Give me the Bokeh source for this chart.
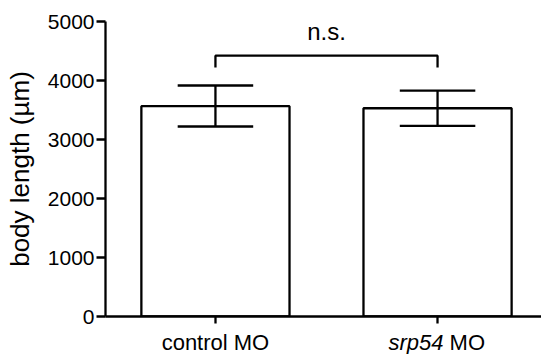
from bokeh.plotting import figure
from bokeh.layouts import column
from bokeh.models import Range1d, FixedTicker
from bokeh.core.properties import value
from bokeh.embed import file_html
from bokeh.resources import INLINE

# data
categories = ["control MO", "srp54 MO"]
label_italic = ["", "srp54"]
label_plain = ["control MO", "MO"]
means = [3565, 3530]
err_up = [3915, 3830]
err_lo = [3220, 3230]
bracket_y = 4420
bracket_drop = 4220
y_ticks = [0, 1000, 2000, 3000, 4000, 5000]
sig_text = "n.s."

FONT = "Liberation Sans"
xs = [i for i in range(len(categories))]
LW = 2.3

xr = Range1d(-0.495, 1.468)
p = figure(width=541, height=328, output_backend="svg", toolbar_location=None,
           x_range=xr, y_range=Range1d(0, 5000),
           min_border_left=105, min_border_right=0, min_border_top=21, min_border_bottom=12)
p.outline_line_color = None
p.xgrid.visible = False
p.ygrid.visible = False

# bars
p.vbar(x=xs, width=0.667, top=means, bottom=0, fill_color="white",
       line_color="black", line_width=LW)
# error bars
p.segment(x0=xs, x1=xs, y0=err_lo, y1=err_up, line_color="black", line_width=LW)
cap = 0.17
p.segment(x0=[x - cap for x in xs], x1=[x + cap for x in xs], y0=err_up, y1=err_up,
          line_color="black", line_width=LW)
p.segment(x0=[x - cap for x in xs], x1=[x + cap for x in xs], y0=err_lo, y1=err_lo,
          line_color="black", line_width=LW)
# bracket
p.line(x=[xs[0], xs[0], xs[1], xs[1]], y=[bracket_drop, bracket_y, bracket_y, bracket_drop],
       line_color="black", line_width=LW)
p.text(x=[(xs[0] + xs[1]) / 2], y=[bracket_y], text=[sig_text], text_align="center",
       text_baseline="bottom", y_offset=-11, text_font_size="24px", text_color="black",
       text_font=value(FONT))

# axes
for ax in (p.xaxis[0], p.yaxis[0]):
    ax.axis_line_width = LW
    ax.axis_line_color = "black"
    ax.major_tick_line_width = LW
    ax.major_tick_line_color = "black"
    ax.major_tick_in = 0
    ax.minor_tick_line_color = None
    ax.major_label_text_font = FONT
    ax.major_label_text_color = "black"

p.yaxis.ticker = FixedTicker(ticks=y_ticks)
p.yaxis.major_tick_out = 9
p.yaxis.major_label_text_font_size = "21px"
p.yaxis.major_label_standoff = 2
p.yaxis.axis_label = "body length (µm)"
p.yaxis.axis_label_text_font = FONT
p.yaxis.axis_label_text_font_size = "26px"
p.yaxis.axis_label_text_font_style = "normal"
p.yaxis.axis_label_text_color = "black"
p.yaxis.axis_label_standoff = 10

p.xaxis.ticker = FixedTicker(ticks=xs)
p.xaxis.major_tick_out = 7
p.xaxis.major_label_standoff = 0
p.xaxis.major_label_overrides = {x: "" for x in xs}

# category label strip (mixed italic / plain text)
p2 = figure(width=541, height=26, output_backend="svg", toolbar_location=None,
            x_range=xr, y_range=Range1d(0, 1), x_axis_type=None, y_axis_type=None,
            min_border_left=105, min_border_right=0, min_border_top=0, min_border_bottom=0)
p2.outline_line_color = None
p2.xgrid.visible = False
p2.ygrid.visible = False

plain_x, plain_t, plain_off, plain_align = [], [], [], []
ital_x, ital_t = [], []
for x, it, pl in zip(xs, label_italic, label_plain):
    plain_x.append(x)
    plain_t.append(pl)
    if it:
        ital_x.append(x)
        ital_t.append(it)
        plain_off.append(12)
        plain_align.append("left")
    else:
        plain_off.append(0)
        plain_align.append("center")

p2.text(x=plain_x, y=[1] * len(plain_x), text=plain_t, x_offset=plain_off,
        text_align=plain_align, text_baseline="top", y_offset=1,
        text_font=value(FONT), text_font_size="22px", text_color="black")
p2.text(x=ital_x, y=[1] * len(ital_x), text=ital_t, x_offset=6,
        text_align="right", text_baseline="top", y_offset=1,
        text_font=value(FONT), text_font_size="22px", text_font_style="italic",
        text_color="black")

layout = column(p, p2, spacing=0)
open("out.html", "w").write(file_html(layout, INLINE))
